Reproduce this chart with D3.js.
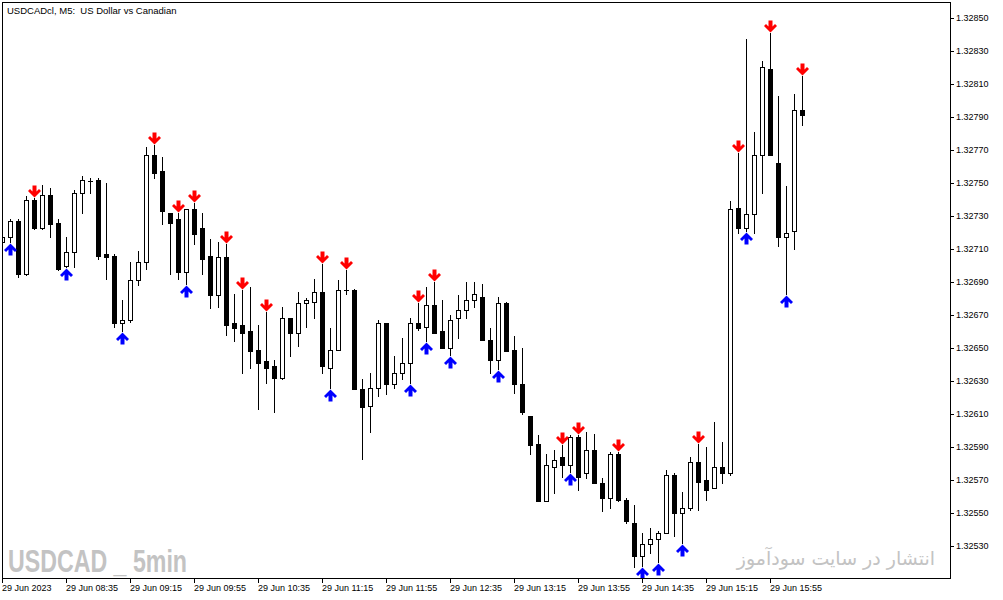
<!DOCTYPE html>
<html>
<head>
<meta charset="utf-8">
<script src="https://cdn.jsdelivr.net/npm/d3@7"></script>
<style>
  body { margin: 0; background: #fff; }
  svg { display: block; }
</style>
</head>
<body>
<div id="chart"></div>
<script>
// USDCAD M5 candles, 29 Jun 2023, 07:55 .. 16:15 (one value per bar)
const opens = [
  1.32714, 1.32717, 1.32727, 1.32695, 1.32740, 1.32723, 1.32743, 1.32726, 1.32700, 1.32708,
  1.32744, 1.32751, 1.32752, 1.32707, 1.32706, 1.32665, 1.32667, 1.32691, 1.32702, 1.32767,
  1.32757, 1.32732, 1.32728, 1.32696, 1.32734, 1.32723, 1.32706, 1.32682, 1.32705, 1.32665,
  1.32664, 1.32660, 1.32649, 1.32642, 1.32639, 1.32632, 1.32668, 1.32659, 1.32677, 1.32678,
  1.32684, 1.32638, 1.32649, 1.32685, 1.32685, 1.32625, 1.32615, 1.32626, 1.32665, 1.32628,
  1.32635, 1.32641, 1.32665, 1.32663, 1.32676, 1.32660, 1.32650, 1.32668, 1.32673, 1.32679,
  1.32681, 1.32655, 1.32643, 1.32677, 1.32649, 1.32628, 1.32609, 1.32592, 1.32557, 1.32578,
  1.32584, 1.32579, 1.32596, 1.32574, 1.32588, 1.32568, 1.32559, 1.32586, 1.32558, 1.32544,
  1.32524, 1.32531, 1.32534, 1.32538, 1.32573, 1.32550, 1.32553, 1.32581, 1.32570, 1.32565,
  1.32578, 1.32574, 1.32735, 1.32723, 1.32731, 1.32767, 1.32819, 1.32762, 1.32717, 1.32721,
  1.32794
]
const highs = [
  1.32719, 1.32728, 1.32728, 1.32742, 1.32741, 1.32749, 1.32747, 1.32728, 1.32717, 1.32746,
  1.32754, 1.32753, 1.32753, 1.32750, 1.32707, 1.32679, 1.32702, 1.32709, 1.32772, 1.32773,
  1.32766, 1.32732, 1.32732, 1.32734, 1.32738, 1.32732, 1.32716, 1.32714, 1.32713, 1.32683,
  1.32685, 1.32687, 1.32664, 1.32672, 1.32643, 1.32675, 1.32668, 1.32684, 1.32680, 1.32692,
  1.32701, 1.32662, 1.32691, 1.32697, 1.32686, 1.32631, 1.32635, 1.32667, 1.32665, 1.32645,
  1.32656, 1.32668, 1.32677, 1.32687, 1.32690, 1.32679, 1.32670, 1.32682, 1.32690, 1.32690,
  1.32689, 1.32662, 1.32681, 1.32678, 1.32657, 1.32650, 1.32609, 1.32597, 1.32586, 1.32588,
  1.32591, 1.32597, 1.32597, 1.32599, 1.32598, 1.32571, 1.32587, 1.32587, 1.32559, 1.32555,
  1.32538, 1.32541, 1.32539, 1.32576, 1.32574, 1.32563, 1.32584, 1.32592, 1.32590, 1.32605,
  1.32593, 1.32739, 1.32768, 1.32837, 1.32781, 1.32824, 1.32841, 1.32803, 1.32748, 1.32804,
  1.32815
]
const lows = [
  1.32712, 1.32714, 1.32693, 1.32694, 1.32722, 1.32722, 1.32717, 1.32697, 1.32699, 1.32699,
  1.32732, 1.32744, 1.32704, 1.32692, 1.32663, 1.32660, 1.32666, 1.32688, 1.32698, 1.32753,
  1.32725, 1.32695, 1.32692, 1.32689, 1.32713, 1.32695, 1.32674, 1.32675, 1.32658, 1.32654,
  1.32635, 1.32638, 1.32613, 1.32629, 1.32611, 1.32631, 1.32645, 1.32651, 1.32663, 1.32668,
  1.32635, 1.32626, 1.32649, 1.32683, 1.32625, 1.32583, 1.32599, 1.32621, 1.32622, 1.32626,
  1.32631, 1.32629, 1.32661, 1.32654, 1.32659, 1.32650, 1.32646, 1.32656, 1.32668, 1.32675,
  1.32655, 1.32635, 1.32637, 1.32648, 1.32623, 1.32610, 1.32586, 1.32557, 1.32557, 1.32562,
  1.32572, 1.32575, 1.32564, 1.32571, 1.32568, 1.32551, 1.32553, 1.32557, 1.32544, 1.32517,
  1.32518, 1.32526, 1.32520, 1.32538, 1.32536, 1.32532, 1.32552, 1.32552, 1.32558, 1.32565,
  1.32568, 1.32573, 1.32720, 1.32721, 1.32720, 1.32744, 1.32767, 1.32712, 1.32683, 1.32710,
  1.32785
]
const closes = [
  1.32717, 1.32727, 1.32695, 1.32740, 1.32723, 1.32743, 1.32725, 1.32698, 1.32708, 1.32744,
  1.32752, 1.32751, 1.32706, 1.32705, 1.32665, 1.32667, 1.32691, 1.32702, 1.32767, 1.32756,
  1.32733, 1.32726, 1.32696, 1.32734, 1.32719, 1.32704, 1.32682, 1.32705, 1.32664, 1.32662,
  1.32659, 1.32648, 1.32641, 1.32638, 1.32632, 1.32668, 1.32659, 1.32677, 1.32679, 1.32684,
  1.32639, 1.32649, 1.32685, 1.32685, 1.32625, 1.32614, 1.32626, 1.32665, 1.32628, 1.32635,
  1.32641, 1.32665, 1.32662, 1.32676, 1.32659, 1.32650, 1.32667, 1.32673, 1.32679, 1.32683,
  1.32655, 1.32643, 1.32677, 1.32648, 1.32628, 1.32611, 1.32591, 1.32557, 1.32579, 1.32582,
  1.32579, 1.32596, 1.32572, 1.32588, 1.32568, 1.32559, 1.32586, 1.32558, 1.32545, 1.32524,
  1.32531, 1.32534, 1.32538, 1.32573, 1.32550, 1.32553, 1.32581, 1.32569, 1.32564, 1.32578,
  1.32574, 1.32734, 1.32723, 1.32731, 1.32767, 1.32820, 1.32767, 1.32717, 1.32720, 1.32794,
  1.32791
]

// signal arrows (bar indexes)
const sellBars = [4, 19, 22, 24, 28, 30, 33, 40, 43, 52, 54, 70, 72, 77, 87, 92, 96, 100]
const buyBars = [1, 8, 15, 23, 41, 51, 53, 56, 62, 71, 80, 82, 85, 93, 98]

// axis labels
const tickBars = [0, 8, 16, 24, 32, 40, 48, 56, 64, 72, 80, 88, 96]
const tickLabels = ['29 Jun 2023', '29 Jun 08:35', '29 Jun 09:15', '29 Jun 09:55', '29 Jun 10:35',
  '29 Jun 11:15', '29 Jun 11:55', '29 Jun 12:35', '29 Jun 13:15', '29 Jun 13:55',
  '29 Jun 14:35', '29 Jun 15:15', '29 Jun 15:55']
const yTicks = [1.32530, 1.32550, 1.32570, 1.32590, 1.32610, 1.32630, 1.32650, 1.32670, 1.32690,
  1.32710, 1.32730, 1.32750, 1.32770, 1.32790, 1.32810, 1.32830, 1.32850]

const title = 'USDCADcl, M5:  US Dollar vs Canadian'
const markLeft = 'USDCAD _ 5min'
const markRight = 'انتشار در سایت سودآموز'

const W = 1003, H = 600
const font = '"Liberation Sans", Arial, sans-serif'

const svg = d3.select('#chart')
  .append('svg')
    .attr('width', W)
    .attr('height', H)

svg.append('rect').attr('width', W).attr('height', H).attr('fill', '#fff')

const x = d3.scaleLinear().domain([0, 100]).range([2, 802])
const y = d3.scaleLinear().domain([1.32530, 1.32850]).range([546, 18])
const py = p => Math.round(y(p))

const bars = opens.map((o, i) => ({ i, o, h: highs[i], l: lows[i], c: closes[i] }))

svg.append('clipPath').attr('id', 'plot')
  .append('rect').attr('x', 3).attr('y', 3).attr('width', 947).attr('height', 575)

// watermarks
svg.append('text')
  .attr('x', 8).attr('y', 572)
  .attr('textLength', 179).attr('lengthAdjust', 'spacingAndGlyphs')
  .attr('font-family', font).attr('font-weight', 'bold').attr('font-size', 32)
  .attr('fill', '#c3c3c3')
  .style('white-space', 'pre')
  .text(markLeft)

svg.append('text')
  .attr('x', 935).attr('y', 565)
  .attr('text-anchor', 'end')
  .attr('font-family', '"DejaVu Sans", sans-serif').attr('font-size', 19)
  .attr('fill', '#c3c3c3')
  .text(markRight)

const plot = svg.append('g').attr('clip-path', 'url(#plot)')

// wicks
plot.selectAll('line.wick')
  .data(bars)
  .enter()
  .append('line')
    .attr('class', 'wick')
    .attr('x1', d => x(d.i) + 0.5)
    .attr('x2', d => x(d.i) + 0.5)
    .attr('y1', d => py(d.h))
    .attr('y2', d => py(d.l) + 1)
    .attr('stroke', '#000')
    .attr('stroke-width', 1)

// bodies: bulls hollow, bears filled, dojis a flat line
plot.selectAll('rect.body')
  .data(bars)
  .enter()
  .append('rect')
    .attr('class', 'body')
    .each(function (d) {
      const top = py(Math.max(d.o, d.c)), bot = py(Math.min(d.o, d.c))
      const r = d3.select(this)
      if (d.c > d.o && bot > top) {
        r.attr('x', x(d.i) - 1.5).attr('width', 4)
          .attr('y', top + 0.5).attr('height', bot - top)
          .attr('fill', '#fff').attr('stroke', '#000').attr('stroke-width', 1)
      } else {
        r.attr('x', x(d.i) - 2).attr('width', 5)
          .attr('y', top).attr('height', bot - top + 1)
          .attr('fill', '#000')
      }
    })

// arrows, tip at (0,0) pointing down
const arrowPath = 'M-2,-12.5H2V-6.5L4.5,-9L6.5,-7L0,-0.5L-6.5,-7L-4.5,-9L-2,-6.5Z'

plot.selectAll('path.sell')
  .data(sellBars.map(i => bars[i]))
  .enter()
  .append('path')
    .attr('class', 'sell')
    .attr('d', arrowPath)
    .attr('transform', d => `translate(${x(d.i) + 0.5},${py(d.h)})`)
    .attr('fill', '#ff0000')

plot.selectAll('path.buy')
  .data(buyBars.map(i => bars[i]))
  .enter()
  .append('path')
    .attr('class', 'buy')
    .attr('d', arrowPath)
    .attr('transform', d => `translate(${x(d.i) + 0.5},${py(d.l) + 1}) scale(1,-1)`)
    .attr('fill', '#0000ff')

// frame
svg.append('rect')
  .attr('x', 2.5).attr('y', 2.5)
  .attr('width', 948).attr('height', 576)
  .attr('fill', 'none').attr('stroke', '#000')

// price axis on the right
const yAxis = svg.append('g')
  .attr('transform', 'translate(950,0)')
  .call(d3.axisRight(y).tickValues(yTicks).tickFormat(d3.format('.5f')).tickSize(4).tickPadding(2))
yAxis.select('.domain').remove()
yAxis.attr('font-family', font).attr('font-size', 9)

// time axis
const xAxis = svg.append('g')
  .attr('transform', 'translate(0,578)')
  .call(d3.axisBottom(x).tickValues(tickBars).tickFormat((d, i) => tickLabels[i]).tickSize(5).tickPadding(2))
xAxis.select('.domain').remove()
xAxis.attr('font-family', font).attr('font-size', 9)
xAxis.selectAll('text').attr('text-anchor', 'start').attr('x', -0.5)

// title
svg.append('text')
  .attr('x', 7).attr('y', 13.5)
  .attr('font-family', font).attr('font-size', 9.5)
  .style('white-space', 'pre')
  .text(title)
</script>
</body>
</html>
